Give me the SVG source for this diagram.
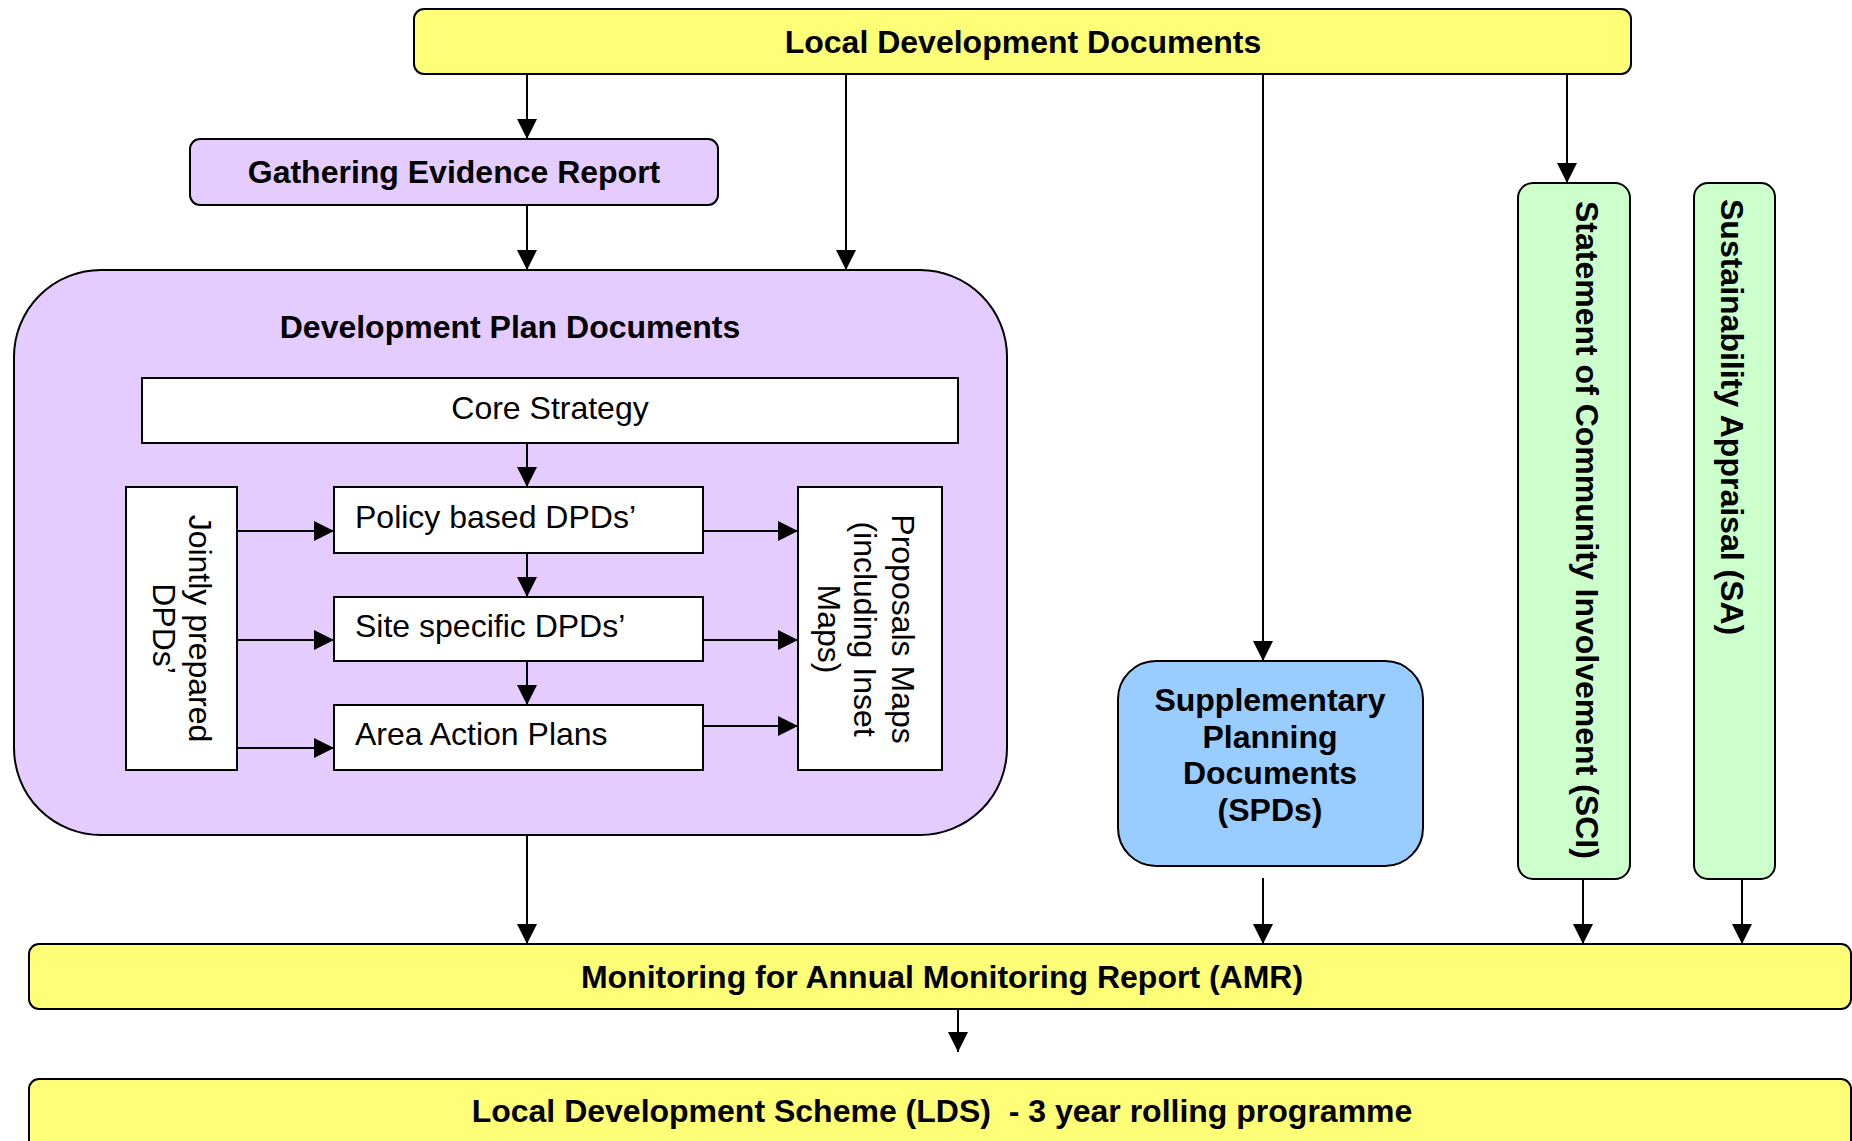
<svg xmlns="http://www.w3.org/2000/svg" width="1852" height="1141" viewBox="0 0 1852 1141">
  <style>
    .box { stroke: #000; stroke-width: 2; }
    .yellow { fill: #FFFF77; }
    .lav { fill: #E4CCFF; }
    .blue { fill: #99CCFF; }
    .green { fill: #CCFFCC; }
    .white { fill: #FFFFFF; }
    .b { font-family: "Liberation Sans", Arial, sans-serif; font-weight: bold; font-size: 32px; fill: #000; }
    .r { font-family: "Liberation Sans", Arial, sans-serif; font-size: 32px; fill: #000; }
    .conn path { stroke: #000; stroke-width: 2; fill: none; marker-end: url(#arr); }
  </style>
  <defs>
    <marker id="arr" markerUnits="userSpaceOnUse" markerWidth="20" markerHeight="20" refX="20" refY="10" orient="auto">
      <path d="M0,0 L20,10 L0,20 z" fill="#000"/>
    </marker>
  </defs>
  <rect width="1852" height="1141" fill="#FFFFFF"/>

  <g id="ldd">
    <rect class="box yellow" x="414" y="9" width="1217" height="65" rx="10"/>
    <text class="b" x="1023" y="53" text-anchor="middle">Local Development Documents</text>
  </g>
  <g id="ger">
    <rect class="box lav" x="190" y="139" width="528" height="66" rx="10"/>
    <text class="b" x="454" y="183" text-anchor="middle">Gathering Evidence Report</text>
  </g>
  <g id="dpd">
    <rect class="box lav" x="14" y="270" width="993" height="565" rx="87"/>
    <text class="b" x="510" y="338" text-anchor="middle">Development Plan Documents</text>
  </g>
  <g id="core">
    <rect class="box white" x="142" y="378" width="816" height="65"/>
    <text class="r" x="550" y="419" text-anchor="middle">Core Strategy</text>
  </g>
  <g id="jointly">
    <rect class="box white" x="126" y="487" width="111" height="283"/>
    <g transform="translate(181.5,628.5) rotate(90)">
      <text class="r" x="0" y="-7.5" text-anchor="middle">Jointly prepared</text>
      <text class="r" x="0" y="29" text-anchor="middle">DPDs’</text>
    </g>
  </g>
  <g id="policy">
    <rect class="box white" x="334" y="487" width="369" height="66"/>
    <text class="r" x="355" y="528">Policy based DPDs’</text>
  </g>
  <g id="site">
    <rect class="box white" x="334" y="597" width="369" height="64"/>
    <text class="r" x="355" y="637">Site specific DPDs’</text>
  </g>
  <g id="area">
    <rect class="box white" x="334" y="705" width="369" height="65"/>
    <text class="r" x="355" y="745">Area Action Plans</text>
  </g>
  <g id="proposals">
    <rect class="box white" x="798" y="487" width="144" height="283"/>
    <g transform="translate(870,629) rotate(90)">
      <text class="r" x="0" y="-22" text-anchor="middle">Proposals Maps</text>
      <text class="r" x="0" y="16" text-anchor="middle">(including Inset</text>
      <text class="r" x="0" y="52" text-anchor="middle">Maps)</text>
    </g>
  </g>
  <g id="spd">
    <rect class="box blue" x="1118" y="661" width="305" height="205" rx="38"/>
    <text class="b" x="1270" y="711" text-anchor="middle">Supplementary</text>
    <text class="b" x="1270" y="747.5" text-anchor="middle">Planning</text>
    <text class="b" x="1270" y="784" text-anchor="middle">Documents</text>
    <text class="b" x="1270" y="820.5" text-anchor="middle">(SPDs)</text>
  </g>
  <g id="sci">
    <rect class="box green" x="1518" y="183" width="112" height="696" rx="15"/>
    <text class="b" transform="translate(1576,201) rotate(90)" x="0" y="0">Statement of Community Involvement (SCI)</text>
  </g>
  <g id="sa">
    <rect class="box green" x="1694" y="183" width="81" height="696" rx="14"/>
    <text class="b" transform="translate(1721,199) rotate(90)" x="0" y="0">Sustainability Appraisal (SA)</text>
  </g>
  <g id="amr">
    <rect class="box yellow" x="29" y="944" width="1822" height="65" rx="10"/>
    <text class="b" x="942" y="988" text-anchor="middle">Monitoring for Annual Monitoring Report (AMR)</text>
  </g>
  <g id="lds">
    <rect class="box yellow" x="29" y="1079" width="1822" height="80" rx="10"/>
    <text class="b" x="942" y="1122" text-anchor="middle" xml:space="preserve">Local Development Scheme (LDS)  - 3 year rolling programme</text>
  </g>

  <g id="connectors" class="conn">
    <path d="M527,74 V139"/>
    <path d="M846,74 V270"/>
    <path d="M1263,74 V661"/>
    <path d="M1567,74 V183"/>
    <path d="M527,205 V270"/>
    <path d="M527,443 V487"/>
    <path d="M527,553 V597"/>
    <path d="M527,661 V705"/>
    <path d="M237,531 H334"/>
    <path d="M237,640 H334"/>
    <path d="M237,748 H334"/>
    <path d="M703,531 H798"/>
    <path d="M703,640 H798"/>
    <path d="M703,726 H798"/>
    <path d="M527,835 V944"/>
    <path d="M1263,878 V944"/>
    <path d="M1583,879 V944"/>
    <path d="M1742,879 V944"/>
    <path d="M958,1009 V1052"/>
  </g>
</svg>
